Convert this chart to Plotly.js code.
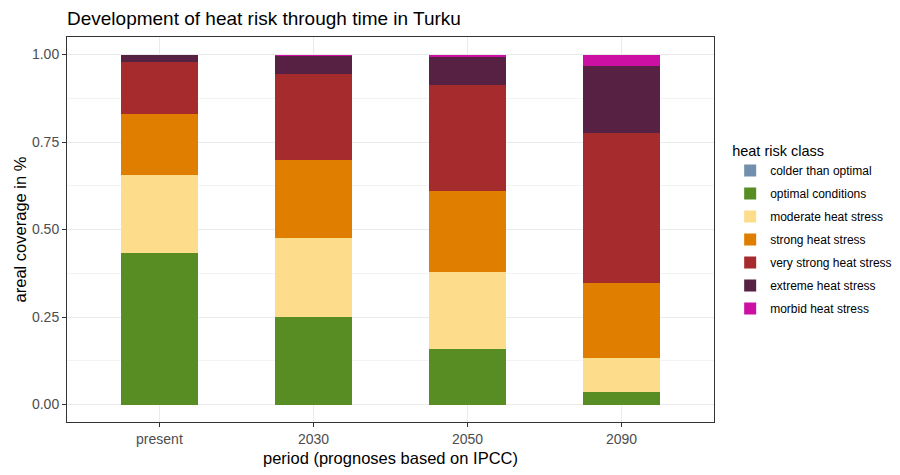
<!DOCTYPE html>
<html>
<head>
<meta charset="utf-8">
<script src="https://cdn.plot.ly/plotly-3.0.1.min.js"></script>
<style>html,body{margin:0;padding:0;background:#fff}#chart{width:900px;height:475px}</style>
</head>
<body>
<div id="chart"></div>
<script>
var periods = ["present", "2030", "2050", "2090"];
var classes = ["colder than optimal", "optimal conditions", "moderate heat stress", "strong heat stress", "very strong heat stress", "extreme heat stress", "morbid heat stress"];
var colors = ["#7290AD", "#588D23", "#FDDC8C", "#E07E00", "#A62B2D", "#562142", "#CB10A3"];
var colderThanOptimal   = [0, 0, 0, 0];
var optimalConditions   = [0.432, 0.249, 0.159, 0.035];
var moderateHeatStress  = [0.225, 0.228, 0.221, 0.097];
var strongHeatStress    = [0.174, 0.223, 0.229, 0.214];
var veryStrongHeatStress= [0.149, 0.243, 0.303, 0.431];
var extremeHeatStress   = [0.020, 0.054, 0.082, 0.189];
var morbidHeatStress    = [0.000, 0.003, 0.006, 0.034];
var series = [colderThanOptimal, optimalConditions, moderateHeatStress, strongHeatStress, veryStrongHeatStress, extremeHeatStress, morbidHeatStress];

var traces = series.map(function (vals, i) {
  return {
    type: "bar",
    x: periods,
    y: vals,
    name: classes[i],
    legendgroup: "g" + i,
    marker: {color: colors[i], line: {width: 0}},
    width: 0.5,
    hoverinfo: "name+y"
  };
});

var layout = {
  width: 900, height: 475,
  barmode: "stack",
  paper_bgcolor: "#ffffff",
  plot_bgcolor: "#ffffff",
  font: {family: "Liberation Sans, Arial, sans-serif", color: "#000000"},
  margin: {l: 67, r: 186, t: 37, b: 53, pad: 0, autoexpand: false},
  title: {
    text: "Development of heat risk through time in Turku",
    font: {size: 19, color: "#000000"},
    x: 0, xanchor: "left", xref: "paper",
    y: 0.962, yanchor: "middle"
  },
  xaxis: {
    type: "category",
    range: [-0.6, 3.6],
    showgrid: true, gridcolor: "#EBEBEB", gridwidth: 1,
    ticks: "outside", ticklen: 4, tickcolor: "#333333",
    tickfont: {size: 14, color: "#4D4D4D"},
    showline: true, linecolor: "#333333", linewidth: 1, mirror: true,
    zeroline: false,
    title: {text: "period (prognoses based on IPCC)", font: {size: 16.5, color: "#000000"}, standoff: 6}
  },
  yaxis: {
    range: [-0.05, 1.05],
    tickvals: [0, 0.25, 0.5, 0.75, 1],
    ticktext: ["0.00", "0.25", "0.50", "0.75", "1.00"],
    showgrid: true, gridcolor: "#EBEBEB", gridwidth: 1,
    minor: {tickvals: [0.125, 0.375, 0.625, 0.875], showgrid: true, gridcolor: "#F3F3F3", gridwidth: 1},
    ticks: "outside", ticklen: 4, tickcolor: "#333333",
    tickfont: {size: 14, color: "#4D4D4D"},
    showline: true, linecolor: "#333333", linewidth: 1, mirror: true,
    zeroline: false,
    title: {text: "areal coverage in %", font: {size: 16.5, color: "#000000"}, standoff: 1}
  },
  legend: {
    x: 1.025, xanchor: "left",
    y: 0.74, yanchor: "top",
    traceorder: "grouped",
    tracegroupgap: 4,
    font: {size: 12, color: "#000000"},
    title: {text: "heat risk class", font: {size: 14.5, color: "#000000"}},
    bgcolor: "rgba(0,0,0,0)"
  },
  showlegend: true
};

Plotly.newPlot("chart", traces, layout, {displayModeBar: false, staticPlot: true});
</script>
</body>
</html>
